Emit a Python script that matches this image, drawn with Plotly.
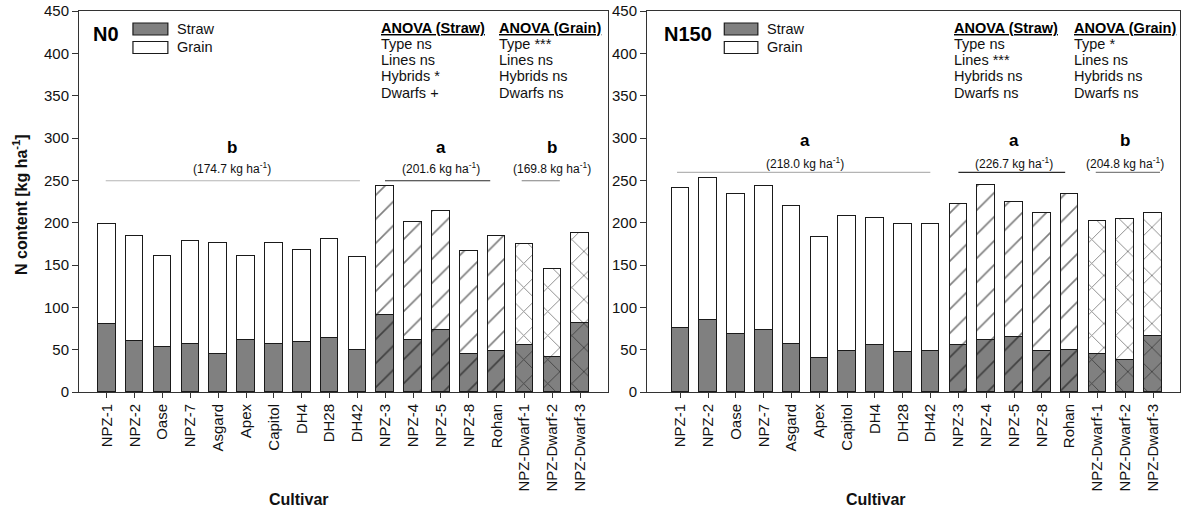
import plotly.graph_objects as go

# ---------------- data ----------------
cultivars = ["NPZ-1", "NPZ-2", "Oase", "NPZ-7", "Asgard", "Apex", "Capitol", "DH4", "DH28", "DH42",
             "NPZ-3", "NPZ-4", "NPZ-5", "NPZ-8", "Rohan", "NPZ-Dwarf-1", "NPZ-Dwarf-2", "NPZ-Dwarf-3"]
cultivar_type = ["Lines"] * 10 + ["Hybrids"] * 5 + ["Dwarfs"] * 3

n0_straw = [80, 60, 53, 57, 45, 61, 57, 59, 64, 50, 91, 61, 73, 45, 48, 56, 41, 82]
n0_grain = [119, 124, 108, 121, 131, 100, 119, 109, 117, 110, 152, 140, 141, 121, 136, 119, 104, 106]
n150_straw = [76, 85, 68, 73, 57, 40, 48, 55, 47, 49, 55, 62, 65, 48, 50, 45, 38, 66]
n150_grain = [165, 168, 166, 170, 163, 143, 160, 151, 151, 150, 167, 183, 159, 163, 184, 157, 166, 145]

groups = ["Lines", "Hybrids", "Dwarfs"]
n0_letters = ["b", "a", "b"]
n0_means = ["174.7", "201.6", "169.8"]
n150_letters = ["a", "a", "b"]
n150_means = ["218.0", "226.7", "204.8"]

anova_rows = ["Type", "Lines", "Hybrids", "Dwarfs"]
n0_anova_straw = ["ns", "ns", "*", "+"]
n0_anova_grain = ["***", "ns", "ns", "ns"]
n150_anova_straw = ["ns", "***", "ns", "ns"]
n150_anova_grain = ["*", "ns", "ns", "ns"]

y_ticks = list(range(0, 451, 50))

# ---------------- style ----------------
W, H = 1181, 512
FONT = "Liberation Sans, Arial, sans-serif"
STRAW_COL = "#808080"
GRAIN_COL = "#ffffff"
EDGE = "#1a1a1a"
AX = "#333333"
pattern_by_type = {"Lines": "", "Hybrids": "/", "Dwarfs": "x"}
group_line_colors = ["#b4b4b4", "#2a2a2a", "#808080"]

panels = [
    dict(name="N0", straw=n0_straw, grain=n0_grain, letters=n0_letters, means=n0_means,
         a_straw=n0_anova_straw, a_grain=n0_anova_grain,
         xdom=[79 / W, 608 / W], xrange=[-1.0, 18.0],
         spans=[(-0.04, 9.09), (9.99, 13.77), (14.9, 16.27)],
         letter_y=289, mean_y=265, line_y=249.5,
         anova_x=[379, 497], label_x=0.023, box_x=(0.102, 0.168), text_x=0.181),
    dict(name="N150", straw=n150_straw, grain=n150_grain, letters=n150_letters, means=n150_means,
         a_straw=n150_anova_straw, a_grain=n150_anova_grain,
         xdom=[647 / W, 1180 / W], xrange=[-1.2, 17.97],
         spans=[(-0.12, 8.99), (10.0, 13.84), (14.94, 17.25)],
         letter_y=297, mean_y=271, line_y=259.5,
         anova_x=[952, 1072], label_x=0.028, box_x=(0.145, 0.208), text_x=0.222),
]

idx = list(range(len(cultivars)))
shapes_pat = [pattern_by_type[t] for t in cultivar_type]

fig = go.Figure()
annotations = []
shapes = []

def yfrac(px):
    # pixel (from top of page) -> paper fraction (plot area 11..392)
    return (392 - px) / (392 - 11)

for p_i, p in enumerate(panels):
    xa = "x" if p_i == 0 else "x2"
    ya = "y" if p_i == 0 else "y2"
    xname = "xaxis" if p_i == 0 else "xaxis2"
    yname = "yaxis" if p_i == 0 else "yaxis2"
    for comp, vals, col in (("Straw", p["straw"], STRAW_COL), ("Grain", p["grain"], GRAIN_COL)):
        fig.add_trace(go.Bar(
            x=idx, y=vals, name=comp, xaxis=xa, yaxis=ya, width=0.63, showlegend=False,
            marker=dict(color=col, line=dict(color=EDGE, width=1),
                        pattern=dict(shape=shapes_pat, fillmode="overlay", fgcolor="#000000",
                                     size=17, solidity=0.1)),
        ))
    fig.layout[xname] = dict(
        domain=p["xdom"], range=p["xrange"], anchor=ya,
        tickmode="array", tickvals=idx, ticktext=cultivars, tickangle=-90,
        ticks="outside", ticklen=5, tickcolor=AX, showline=True, linecolor=AX, linewidth=1,
        mirror=True, showgrid=False, zeroline=False,
        tickfont=dict(family=FONT, size=15, color="#111111"),
    )
    fig.layout[yname] = dict(
        domain=[0, 1], range=[0, 450], anchor=xa,
        tickmode="array", tickvals=y_ticks,
        ticks="outside", ticklen=6, tickcolor=AX, showline=True, linecolor=AX, linewidth=1,
        mirror=True, showgrid=False, zeroline=False,
        tickfont=dict(family=FONT, size=15, color="#111111"),
    )
    xdomref = xa + " domain"
    ydomref = ya + " domain"
    # panel label
    annotations.append(dict(text=p["name"], xref=xdomref, yref=ydomref,
                            x=p["label_x"], y=yfrac(34), xanchor="left", yanchor="middle",
                            showarrow=False, font=dict(family=FONT, size=20, color="#000", weight="bold")))
    # legend boxes
    for j, (comp, col, ypx) in enumerate((("Straw", STRAW_COL, 29), ("Grain", GRAIN_COL, 47.5))):
        shapes.append(dict(type="rect", xref=xdomref, yref=ydomref,
                           x0=p["box_x"][0], x1=p["box_x"][1], y0=yfrac(ypx - 6), y1=yfrac(ypx + 6),
                           fillcolor=col, line=dict(color=EDGE, width=1.2)))
        annotations.append(dict(text=comp, xref=xdomref, yref=ydomref, x=p["text_x"], y=yfrac(ypx),
                                xanchor="left", yanchor="middle", showarrow=False,
                                font=dict(family=FONT, size=14.5, color="#111")))
    # ANOVA blocks
    for k, (title, res) in enumerate((("ANOVA (Straw)", p["a_straw"]), ("ANOVA (Grain)", p["a_grain"]))):
        xp = p["anova_x"][k] / W
        annotations.append(dict(text="<u>%s</u>" % title, xref="paper", yref="paper",
                                x=xp, y=yfrac(27.5), xanchor="left", yanchor="middle", showarrow=False,
                                font=dict(family=FONT, size=14.5, color="#000", weight="bold")))
        for r, (row, val) in enumerate(zip(anova_rows, res)):
            annotations.append(dict(text="%s %s" % (row, val), xref="paper", yref="paper",
                                    x=xp, y=yfrac(43.5 + 16.4 * r), xanchor="left", yanchor="middle",
                                    showarrow=False, font=dict(family=FONT, size=14.5, color="#111")))
    # group letters, means and lines
    for g_i, g in enumerate(groups):
        members = [i for i, t in enumerate(cultivar_type) if t == g]
        cx = sum(members) / len(members)
        annotations.append(dict(text=p["letters"][g_i], xref=xa, yref=ya, x=cx,
                                y=p["letter_y"], showarrow=False, xanchor="center", yanchor="middle",
                                font=dict(family=FONT, size=17, color="#000", weight="bold")))
        annotations.append(dict(text="(%s kg ha<sup>-1</sup>)" % p["means"][g_i], xref=xa, yref=ya,
                                x=cx, y=p["mean_y"], showarrow=False, xanchor="center", yanchor="middle",
                                font=dict(family=FONT, size=12, color="#111")))
        x0, x1 = p["spans"][g_i]
        shapes.append(dict(type="line", xref=xa, yref=ya, x0=x0, x1=x1, y0=p["line_y"], y1=p["line_y"],
                           line=dict(color=group_line_colors[g_i], width=1.2)))
    # x-axis title
    annotations.append(dict(text="Cultivar", xref="paper", yref="paper",
                            x=(299 if p_i == 0 else 876) / W, y=yfrac(499), xanchor="center",
                            yanchor="middle", showarrow=False,
                            font=dict(family=FONT, size=16, color="#111", weight="bold")))

# y-axis title
annotations.append(dict(text="N content [kg ha<sup>-1</sup>]", xref="paper", yref="paper",
                        x=20 / W, y=yfrac(205), textangle=-90, xanchor="center", yanchor="middle",
                        showarrow=False, font=dict(family=FONT, size=16, color="#111", weight="bold")))

fig.update_layout(
    width=W, height=H, barmode="stack", bargap=0,
    margin=dict(l=0, r=0, t=11, b=120),
    paper_bgcolor="white", plot_bgcolor="white",
    annotations=annotations, shapes=shapes, showlegend=False,
    font=dict(family=FONT),
)

fig.write_html("out.html")
